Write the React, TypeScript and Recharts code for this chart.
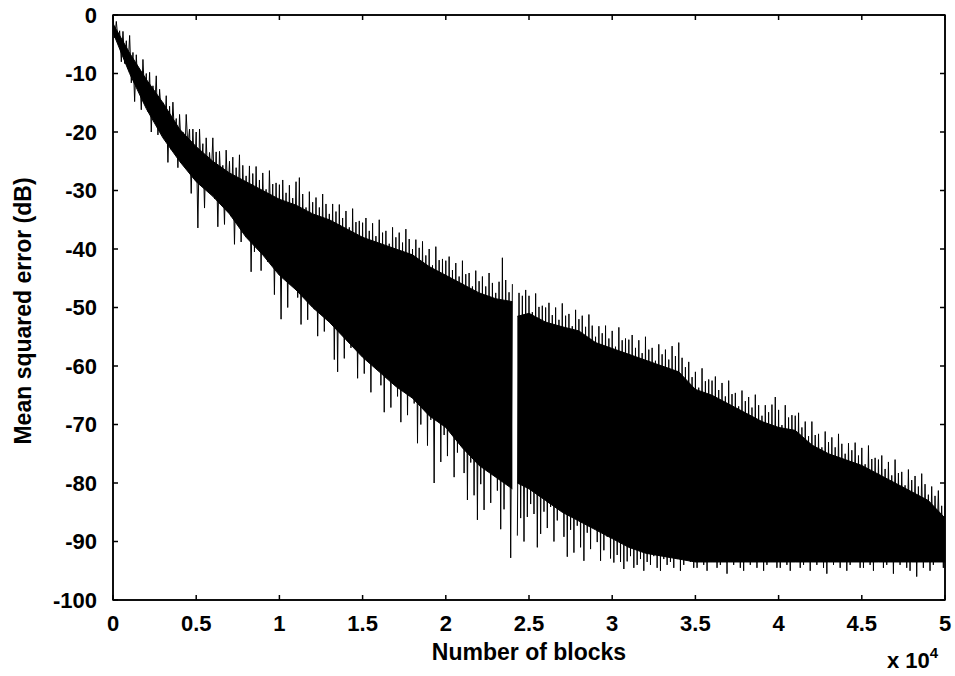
import React from 'react';
import { ComposedChart, Line, Area, XAxis, YAxis, ReferenceArea } from 'recharts';

// sampling interval of the MSE trace (number of blocks between samples)
const BLOCK_STEP = 100;

// MSE trace (dB), one sample every BLOCK_STEP blocks; null = missing segment
const mseSamples: (number | null)[] = [
  -0.3, -3.9, -1.1, -4.2, -2.7, -8, -2.8, -8.3, -4.4, -9.1,
  -3.5, -11.6, -6.4, -14.8, -6.8, -12.5, -9.7, -16.2, -7.6, -13.9,
  -10, -16.5, -9.8, -20, -12.1, -16.5, -10.4, -20.5, -12.7, -17,
  -15, -20.4, -13.8, -25.2, -15.6, -23, -14.9, -20.8, -17.7, -26.1,
  -17, -23, -20, -25.5, -17, -22.5, -19.5, -30.5, -19.5, -27.5,
  -20, -36.4, -19.5, -27.6, -22, -33, -21, -28.4, -23.5, -27.8,
  -21, -31.4, -23.4, -36.2, -23.3, -30, -25.7, -35.8, -23.1, -31.6,
  -25, -34.4, -24.3, -39.2, -26.1, -35, -23.9, -38.8, -25.7, -35.6,
  -27.5, -37.3, -25.8, -43.9, -27.1, -40.5, -25.9, -38.1, -28.2, -43.7,
  -27, -39.4, -29.8, -42.2, -26.6, -38, -28.9, -47.8, -28.7, -43.6,
  -29, -52, -28.2, -42.6, -30.4, -50, -29.1, -45.4, -31.3, -41.8,
  -28.5, -48.3, -27.8, -52.9, -30.6, -46.5, -32.9, -52.1, -30.2, -45.7,
  -32, -50.3, -31.2, -54.9, -32.9, -48.5, -30.6, -54.1, -32.3, -46.7,
  -34, -52.3, -32.3, -58.9, -33.6, -61, -32.4, -51.1, -34.7, -58.7,
  -33.5, -54.3, -36.3, -56.9, -33.1, -52.5, -35.4, -62.1, -35.2, -57.7,
  -35.5, -61.3, -34.7, -56.9, -36.9, -64.5, -35.6, -60.1, -37.8, -56.7,
  -35, -63.3, -37.2, -67.9, -36.9, -61.5, -39.1, -67.1, -36.3, -60.7,
  -38, -65.2, -37.2, -69.6, -38.9, -63, -36.6, -68.4, -38.3, -60.8,
  -40, -66.4, -38.4, -73.2, -39.8, -70, -38.7, -65.8, -41.1, -73.6,
  -40, -69.2, -42.8, -80, -39.6, -67, -41.9, -76.4, -41.7, -71.8,
  -42, -75.4, -41.3, -71.2, -43.6, -79, -42.4, -74.8, -44.7, -71.6,
  -42, -78.3, -44.3, -82.9, -44.1, -76.5, -46.4, -82.1, -43.7, -86.3,
  -45.5, -80.2, -44.7, -84.6, -46.4, -78, -44.1, -83.4, -45.8, -75.8,
  -47.5, -81.3, -45.6, -87.9, -41.5, -84.5, -45.3, -80.1, -47.4, -92.8,
  -46, null, null, -89, -47.5, -86, -48, -90, -47, -85.8,
  -48, -83.6, -50.8, -85.3, -47.6, -91, -49.9, -88.7, -49.7, -84.9,
  -50, -87.7, -49.2, -84.1, -51.3, -90, -50, -86.4, -52.1, -83.8,
  -49.3, -89.2, -51.4, -92.6, -51.1, -88, -53.2, -91.9, -50.4, -87.3,
  -52, -91, -51.4, -93.3, -53.3, -88.5, -51.2, -91.3, -53.1, -86.6,
  -55, -90.1, -53.2, -93.3, -54.4, -91.5, -53.1, -89.2, -55.3, -92.9,
  -54, -93.6, -56.7, -92.3, -53.4, -93.5, -55.6, -94.7, -55.3, -93.4,
  -55.5, -92.5, -54.7, -94.5, -56.9, -94, -55.6, -93, -57.8, -95,
  -55, -93.5, -57.2, -94, -56.9, -92.5, -59.1, -94.5, -56.3, -95,
  -58, -93, -57.2, -94, -58.9, -93.5, -56.6, -94.5, -58.3, -93,
  -56, -95, -58.6, -94, -60.2, -92.5, -59.3, -93.5, -61.9, -94.5,
  -61, -94.5, -63.7, -93, -60.4, -94, -62.6, -95, -62.3, -93.5,
  -62.5, -92.5, -61.8, -94.5, -64.1, -94, -62.9, -93, -65.2, -95.5,
  -62.5, -93.5, -64.8, -94, -64.6, -92.5, -66.9, -94.5, -64.2, -95,
  -66, -93, -65.3, -94, -67.1, -93.5, -64.9, -94.5, -66.7, -93,
  -68.5, -95, -66.7, -94, -67.9, -92.5, -66.6, -93.5, -65.3, -94.5,
  -67.5, -94.5, -70.1, -93, -66.7, -94, -68.8, -95, -68.4, -93.5,
  -68.5, -92.5, -68, -94.5, -70.5, -94, -69.5, -93, -72, -95,
  -69.5, -93.5, -71.8, -94, -71.6, -92.5, -73.9, -94.5, -71.2, -95.5,
  -73, -93, -72.2, -94, -73.9, -93.5, -71.6, -94.5, -73.3, -93,
  -75, -95, -73.2, -94, -74.4, -92.5, -73.1, -93.5, -75.3, -94.5,
  -74, -94.5, -76.8, -93, -73.6, -94, -75.9, -95, -75.7, -93.5,
  -76, -92.5, -75.3, -94.5, -77.6, -94, -76.4, -93, -78.7, -95.5,
  -76, -93.5, -78.3, -94, -78.1, -92.5, -80.4, -94.5, -77.7, -95,
  -79.5, -93, -78.8, -96, -80.6, -93.5, -78.4, -94.5, -80.2, -93,
  -82, -95, -80.6, -94, -82.2, -92.5, -81.3, -93.5, -83.9, -94.5,
  -84,
];

// dense core of the trace (solid black band)
const bandBlocks = [
  0, 1000, 2000, 3000, 4000, 5000, 6000, 7000, 8000, 9000,
  10000, 11000, 12000, 13000, 14000, 15000, 16000, 17000, 18000, 19000,
  20000, 21000, 22000, 23000, 24000, 24100, 24300,
  25000, 26000, 27000, 28000, 29000, 30000, 31000, 32000, 33000, 34000,
  35000, 36000, 37000, 38000, 39000, 40000, 41000, 42000, 43000, 44000,
  45000, 46000, 47000, 48000, 49000, 50000,
];
const bandTop: (number | null)[] = [
  -1.5, -6.5, -11, -15, -19.5, -22.5, -25, -27, -28.5, -30,
  -31.5, -32.5, -34, -35, -36.5, -38, -39, -40, -41, -43,
  -44.5, -46, -47.5, -48.5, -49, null, -51.5,
  -51, -52.5, -53.3, -54, -56, -57, -58, -59, -60, -61,
  -64, -65, -66.5, -68, -69.5, -70.5, -71, -73.5, -75, -76,
  -77, -78.5, -80, -81.5, -83, -86,
];
const bandBottom: (number | null)[] = [
  -3, -10, -16, -21, -25, -28.5, -31, -34, -38, -41,
  -44.5, -47, -50, -52.5, -55.5, -58.5, -61, -63.5, -65.5, -68.5,
  -70.5, -74, -77, -79, -81, null, -80,
  -81, -83, -85, -86.5, -88, -89.5, -91, -92, -92.5, -93,
  -93.5, -93.5, -93.5, -93.5, -93.5, -93.5, -93.5, -93.5, -93.5, -93.5,
  -93.5, -93.5, -93.5, -93.5, -93.5, -93.5,
];

const xTicks = [0, 5000, 10000, 15000, 20000, 25000, 30000, 35000, 40000, 45000, 50000];
const yTicks = [0, -10, -20, -30, -40, -50, -60, -70, -80, -90, -100];

const lineData = mseSamples.map((v, i) => ({ blocks: i * BLOCK_STEP, mse: v }));
const bandData = bandBlocks.map((b, i) => ({
  blocks: b,
  core: bandTop[i] == null || bandBottom[i] == null ? null : [bandBottom[i], bandTop[i]],
}));

const FONT = '"Liberation Sans", Arial, Helvetica, sans-serif';
const tickStyle = { fill: '#000', fontSize: 22, fontWeight: 'bold', fontFamily: FONT } as any;

export default function App() {
  return (
    <div style={{ position: 'absolute', left: 0, top: 0, width: 955, height: 676, background: '#fff' }}>
      <ComposedChart
        width={955}
        height={676}
        margin={{ top: 14, right: 9, bottom: 0, left: 0 }}
      >
        <XAxis
          dataKey="blocks"
          type="number"
          domain={[0, 50000]}
          ticks={xTicks}
          interval={0}
          height={76}
          stroke="#000"
          strokeWidth={1.5}
          tickSize={-5}
          tickMargin={20}
          tick={tickStyle}
          tickFormatter={(v: number) => String(v / 10000)}
          allowDataOverflow
        />
        <XAxis
          xAxisId="top"
          orientation="top"
          dataKey="blocks"
          type="number"
          domain={[0, 50000]}
          ticks={xTicks}
          interval={0}
          height={1}
          stroke="#000"
          strokeWidth={1.5}
          tickSize={-5}
          tick={tickStyle}
          tickFormatter={() => ''}
          allowDataOverflow
        />
        <YAxis
          type="number"
          domain={[-100, 0]}
          ticks={yTicks}
          interval={0}
          width={113}
          stroke="#000"
          strokeWidth={1.5}
          tickSize={-5}
          tickMargin={21}
          tick={tickStyle}
          allowDataOverflow
        />
        <YAxis
          yAxisId="right"
          orientation="right"
          type="number"
          domain={[-100, 0]}
          ticks={yTicks}
          interval={0}
          width={1}
          stroke="#000"
          strokeWidth={1.5}
          tickSize={-5}
          tick={tickStyle}
          tickFormatter={() => ''}
          allowDataOverflow
        />
        <Area
          data={bandData}
          dataKey="core"
          type="linear"
          stroke="#000"
          strokeWidth={1}
          fill="#000"
          fillOpacity={1}
          dot={false}
          activeDot={false}
          connectNulls={false}
          isAnimationActive={false}
        />
        <Line
          data={lineData}
          dataKey="mse"
          type="linear"
          stroke="#000"
          strokeWidth={1}
          dot={false}
          activeDot={false}
          connectNulls={false}
          isAnimationActive={false}
        />
        <ReferenceArea
          x1={0}
          x2={50000}
          y1={-100}
          y2={0}
          fill="none"
          fillOpacity={0}
          stroke="#000"
          strokeWidth={1.5}
          ifOverflow="visible"
        />
      </ComposedChart>
      <svg
        width={955}
        height={676}
        style={{ position: 'absolute', left: 0, top: 0, pointerEvents: 'none' }}
      >
        <text
          x={529}
          y={660}
          textAnchor="middle"
          fontFamily={FONT}
          fontWeight="bold"
          fontSize={23}
          fill="#000"
        >
          Number of blocks
        </text>
        <text
          x={31}
          y={311}
          textAnchor="middle"
          transform="rotate(-90, 31, 311)"
          fontFamily={FONT}
          fontWeight="bold"
          fontSize={23}
          fill="#000"
        >
          Mean squared error (dB)
        </text>
        <text x={887} y={668} fontFamily={FONT} fontWeight="bold" fontSize={22} fill="#000">
          x 10
          <tspan dy={-10} fontSize={15}>4</tspan>
        </text>
      </svg>
    </div>
  );
}
